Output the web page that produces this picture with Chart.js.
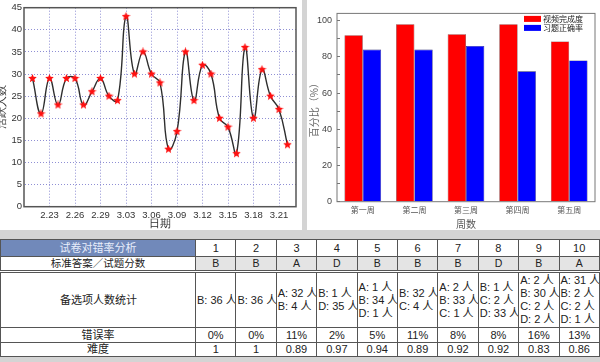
<!DOCTYPE html>
<html>
<head>
<meta charset="utf-8">
<script src="https://cdn.jsdelivr.net/npm/chart.js@4.4.0/dist/chart.umd.min.js"></script>
<style>
  html, body { margin: 0; padding: 0; }
  body {
    width: 600px; height: 362px; position: relative; overflow: hidden;
    background: #d4d4d4;
    font-family: "Liberation Sans", "Noto Sans CJK SC", sans-serif;
  }
  #leftPanel { position: absolute; left: 0; top: 0; width: 302px; height: 230px; background: #fff; }
  #rightPanel { position: absolute; left: 307px; top: 0; width: 293px; height: 230px; background: #fff; }
  #stats {
    position: absolute; left: 0; top: 239px; width: 599px;
    border-collapse: collapse; table-layout: fixed;
    font-size: 11px; color: #222; background: #fff;
  }
  #stats td { border: 1px solid #555; padding: 0; text-align: center; white-space: nowrap; overflow: hidden; line-height: 13px; }
  #stats tr.head td { height: 16px; }
  #stats tr.head td.caption { background: #7189ba; color: #e8eefc; }
  #stats tr.answer td { height: 13px; border-bottom: 3px double #555; background: #e4e4e4; font-size: 10.5px; }
  #stats tr.answer td.caption { background: #fff; }
  #stats tr.counts td { height: 54px; text-align: left; padding-left: 1px; }
  #stats tr.counts td.caption { text-align: center; }
  #stats tr.rate td { height: 14px; }
  #stats tr.diff td { height: 13px; }
</style>
</head>
<body>
<div id="leftPanel"><canvas id="activeChart" width="302" height="230"></canvas></div>
<div id="rightPanel"><canvas id="weekChart" width="293" height="230"></canvas></div>
<table id="stats"></table>

<script>
// daily active learners (2.21 - 3.22)
const dates = ['2.21', '2.22', '2.23', '2.24', '2.25', '2.26', '2.27', '2.28', '2.29',
    '3.01', '3.02', '3.03', '3.04', '3.05', '3.06', '3.07', '3.08', '3.09', '3.10', '3.11',
    '3.12', '3.13', '3.14', '3.15', '3.16', '3.17', '3.18', '3.19', '3.20', '3.21', '3.22'];
const activeUsers = [29, 21, 29, 23, 29, 29, 23, 26, 29, 25, 24, 43, 30, 35, 30, 28,
    13, 17, 35, 24, 32, 30, 20, 18, 12, 36, 20, 31, 25, 22, 14];

// weekly percentages
const weeks = ['第一周', '第二周', '第三周', '第四周', '第五周'];
const videoCompletion = [92, 98, 92.5, 98, 88.5];
const exerciseAccuracy = [84, 84, 86, 72, 78];

// paper analysis table
const questionNumbers = ['1', '2', '3', '4', '5', '6', '7', '8', '9', '10'];
const answers = ['B', 'B', 'A', 'D', 'B', 'B', 'B', 'D', 'B', 'A'];
const optionCounts = [
    ['B: 36 人'],
    ['B: 36 人'],
    ['A: 32 人', 'B: 4 人'],
    ['B: 1 人', 'D: 35 人'],
    ['A: 1 人', 'B: 34 人', 'D: 1 人'],
    ['B: 32 人', 'C: 4 人'],
    ['A: 2 人', 'B: 33 人', 'C: 1 人'],
    ['B: 1 人', 'C: 2 人', 'D: 33 人'],
    ['A: 2 人', 'B: 30 人', 'C: 2 人', 'D: 2 人'],
    ['A: 31 人', 'B: 2 人', 'C: 2 人', 'D: 1 人']
];
const errorRates = ['0%', '0%', '11%', '2%', '5%', '11%', '8%', '8%', '16%', '13%'];
const difficulty = ['1', '1', '0.89', '0.97', '0.94', '0.89', '0.92', '0.92', '0.83', '0.86'];

// build the table
function buildTable() {
    const table = document.getElementById('stats');
    let html = '<colgroup><col style="width:195px">';
    questionNumbers.forEach(() => { html += '<col style="width:40.4px">'; });
    html += '</colgroup>';
    const row = (cls, caption, cells) =>
        '<tr class="' + cls + '"><td class="caption">' + caption + '</td>' +
        cells.map(c => '<td>' + c + '</td>').join('') + '</tr>';
    html += row('head', '试卷对错率分析', questionNumbers);
    html += row('answer', '标准答案／试题分数', answers);
    html += row('counts', '备选项人数统计', optionCounts.map(c => c.join('<br>')));
    html += row('rate', '错误率', errorRates);
    html += row('diff', '难度', difficulty);
    table.innerHTML = html;
}
buildTable();

// filled red star used as point marker
function makeStar(size, color) {
    const c = document.createElement('canvas');
    c.width = size; c.height = size;
    const g = c.getContext('2d');
    const r = size / 2, ri = r * 0.45;
    g.beginPath();
    for (let i = 0; i < 10; i++) {
        const a = -Math.PI / 2 + i * Math.PI / 5;
        const rr = i % 2 ? ri : r;
        g.lineTo(r + rr * Math.cos(a), r + rr * Math.sin(a));
    }
    g.closePath();
    g.fillStyle = color;
    g.fill();
    return c;
}

// box around the plot area
const frame = {
    id: 'frame',
    beforeDatasetsDraw(chart, args, opts) {
        const a = chart.chartArea, ctx = chart.ctx;
        ctx.save();
        ctx.setLineDash([]);
        ctx.strokeStyle = opts.color;
        ctx.lineWidth = opts.width;
        ctx.strokeRect(a.left, a.top, a.right - a.left, a.bottom - a.top);
        ctx.restore();
    }
};

const dottedGrid = { color: '#8f8fd4', drawTicks: false, borderDash: [1, 2] };

new Chart(document.getElementById('activeChart'), {
    type: 'line',
    data: {
        datasets: [{
            data: activeUsers.map((v, i) => ({ x: i, y: v })),
            borderColor: '#2e2e2e',
            borderWidth: 1.4,
            tension: 0.45,
            fill: false,
            pointStyle: makeStar(9, '#ff1010'),
            pointRadius: 4
        }]
    },
    options: {
        responsive: false,
        animation: false,
        layout: { padding: { top: 5, right: 6 } },
        plugins: {
            legend: { display: false },
            tooltip: { enabled: false },
            frame: { color: '#555', width: 1.5 }
        },
        scales: {
            x: {
                type: 'linear',
                min: -1,
                max: dates.length,
                afterBuildTicks: scale => {
                    // label every third day starting at 2.23
                    scale.ticks = dates.map((d, i) => i).filter(i => (i - 2) % 3 === 0).map(v => ({ value: v }));
                },
                afterFit: scale => { scale.height = 23.3; },
                ticks: {
                    callback: value => dates[value],
                    font: { size: 9.5 },
                    color: '#333',
                    padding: 3,
                    maxRotation: 0,
                    autoSkip: false
                },
                grid: dottedGrid,
                border: { display: true, color: 'rgba(0,0,0,0)', dash: [1, 2] },
                title: { display: true, text: '日期', font: { size: 11 }, color: '#333', padding: { top: 0, bottom: -1 } }
            },
            y: {
                min: 0,
                max: 45,
                ticks: { stepSize: 5, font: { size: 9.5 }, color: '#333', padding: 2 },
                afterFit: scale => { scale.width = 24; },
                grid: dottedGrid,
                border: { display: true, color: 'rgba(0,0,0,0)', dash: [1, 2] },
                title: { display: true, text: '活跃人数', font: { size: 11 }, color: '#333', padding: { top: -5, bottom: 0 } }
            }
        }
    },
    plugins: [frame]
});

// legend inside the plot area, top right
const cornerLegend = {
    id: 'cornerLegend',
    afterDraw(chart) {
        const a = chart.chartArea, ctx = chart.ctx;
        ctx.save();
        ctx.font = '8px "Noto Sans CJK SC"';
        ctx.textBaseline = 'middle';
        chart.data.datasets.forEach((ds, i) => {
            const cy = a.top + 5.5 + i * 9;
            ctx.fillStyle = ds.backgroundColor;
            ctx.fillRect(a.right - 71, cy - 3, 17, 6);
            ctx.fillStyle = '#222';
            ctx.fillText(ds.label, a.right - 52, cy);
        });
        ctx.restore();
    }
};

new Chart(document.getElementById('weekChart'), {
    type: 'bar',
    data: {
        labels: weeks,
        datasets: [
            { label: '视频完成度', data: videoCompletion, backgroundColor: '#ff0000', borderColor: '#6a2020', borderWidth: 0.6 },
            { label: '习题正确率', data: exerciseAccuracy, backgroundColor: '#0000ff', borderColor: '#20206a', borderWidth: 0.6 }
        ]
    },
    options: {
        responsive: false,
        animation: false,
        categoryPercentage: 0.71,
        barPercentage: 1.0,
        layout: { padding: { top: 11, right: 5 } },
        plugins: {
            legend: { display: false },
            tooltip: { enabled: false },
            frame: { color: '#777', width: 1 }
        },
        scales: {
            x: {
                afterFit: scale => { scale.height = 28.3; },
                ticks: { font: { family: '"Noto Sans CJK SC"', size: 8 }, color: '#555', padding: 3 },
                grid: { display: false, drawTicks: false },
                border: { display: false },
                title: { display: true, text: '周数', font: { family: '"Noto Sans CJK SC"', size: 10 }, color: '#555', padding: { top: 0, bottom: 0 } }
            },
            y: {
                min: 0,
                max: 104,
                afterFit: scale => { scale.width = 30; },
                afterBuildTicks: scale => {
                    // minor ticks every 10, labels every 20
                    scale.ticks = [0, 10, 20, 30, 40, 50, 60, 70, 80, 90, 100].map(v => ({ value: v }));
                },
                ticks: {
                    callback: v => (v % 20 === 0 ? v : ''),
                    font: { size: 9 },
                    color: '#444',
                    padding: 8
                },
                grid: { drawOnChartArea: false, tickLength: -3, color: '#777' },
                border: { display: false },
                title: { display: true, text: '百分比（%）', font: { family: '"Noto Sans CJK SC"', size: 10 }, color: '#666', padding: { top: 1.5, bottom: 0 } }
            }
        }
    },
    plugins: [frame, cornerLegend]
});
</script>
</body>
</html>
